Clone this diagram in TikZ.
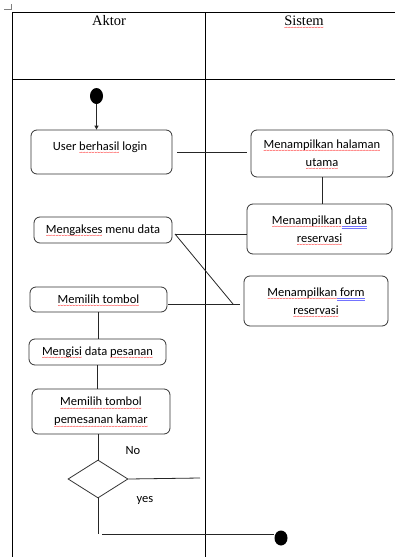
\documentclass[tikz,border=0pt]{standalone}
\usepackage{fontspec}
\usetikzlibrary{shapes.geometric,arrows.meta}
\newfontfamily\carl{Carlito}
\newfontfamily\tms{Liberation Serif}
\newcommand\rw[1]{\leavevmode\setbox0\hbox{#1}\rlap{\smash{\raisebox{-4.2pt}{\hbox to \wd0{\color{red}\xleaders\hbox{\carl\fontsize{6}{6}\selectfont\char"7E}\hfill}}}}\box0\relax}
\newcommand\bl[1]{\leavevmode\setbox0\hbox{#1}\rlap{\smash{\textcolor{blue!55}{\rule[-2.4pt]{\wd0}{0.35pt}}}}\rlap{\smash{\textcolor{blue!55}{\rule[-3.6pt]{\wd0}{0.35pt}}}}\box0\relax}
\begin{document}
\begin{tikzpicture}[x=1pt,y=-1pt,
 frame/.style={line width=0.8pt, black},
 box/.style={draw=black!80, line width=0.8pt, rounded corners=6pt, align=center, font=\carl\fontsize{12.5}{18}\selectfont, inner sep=0pt},
 conn/.style={line width=0.8pt, black!85},
 txt/.style={font=\carl\fontsize{12.5}{18}\selectfont, inner sep=0pt},
 head/.style={font=\tms\fontsize{14.5}{17}\selectfont, inner sep=0pt, anchor=base},
 blob/.style={ellipse, fill=black, inner sep=0pt}]
\useasboundingbox (0,0) rectangle (395,557);
\draw[gray, line width=0.6pt] (4,9) -- (11,9) -- (11,4);
\draw[frame] (12,557) -- (12,12) -- (395,12);
\draw[frame] (205,12) -- (205,557);
\draw[frame] (12,79) -- (395,79);
\node[head] (hA) at (109,25) {Aktor};
\node[head] (hS) at (304,25) {\rw{Sistem}};
\node[blob, minimum width=13pt, minimum height=16pt] (s) at (96.5,96) {};
\node[box, minimum width=141pt, minimum height=44pt] (b1) at (101.5,152) {};
\node[txt] (t1) at (100,147) {User \rw{berhasil} login};
\node[box, minimum width=142pt, minimum height=47pt] (b2) at (322,153.5) {\rw{Menampilkan halaman}\\\rw{utama}};
\node[box, minimum width=145pt, minimum height=50pt] (b3) at (319.5,229) {\rw{Menampilkan}\bl{ data}\\\rw{reservasi}};
\node[box, minimum width=138pt, minimum height=26pt] (b4) at (103,230) {\rw{Mengakses} menu data};
\node[box, minimum width=144pt, minimum height=50pt] (b5) at (316,301) {\rw{Menampilkan}\bl{ form}\\\rw{reservasi}};
\node[box, minimum width=137pt, minimum height=25pt] (b6) at (98.5,299.5) {\rw{Memilih tombol}};
\node[box, minimum width=137pt, minimum height=26pt] (b7) at (97.5,352) {\rw{Mengisi} data \rw{pesanan}};
\node[box, minimum width=138pt, minimum height=45pt] (b8) at (101,411.5) {\rw{Memilih tombol}\\\rw{pemesanan kamar}};
\node[diamond, draw=black!80, line width=0.8pt, minimum width=60pt, minimum height=38pt, inner sep=0pt] (d) at (98,479) {};
\node[txt] (no) at (133,451) {No};
\node[txt] (yes) at (145,500) {yes};
\node[blob, minimum width=13pt, minimum height=15pt] (f) at (281,538) {};
\draw[conn, -{Triangle[length=4pt,width=4pt]}] (s) -- (b1.north -| s);
\draw[conn, shorten <=5pt, shorten >=4pt] (b1.east) -- (b1.east -| b2.west);
\draw[conn] (b2.south) -- (b2.south |- b3.north);
\coordinate (j4) at (175,234);
\draw[conn] (j4) -- (j4 -| b3.west);
\coordinate (k5) at (233,304);
\draw[conn] (j4) -- (k5);
\draw[conn, shorten <=1pt, shorten >=4pt] (b6.east |- k5) -- (k5 -| b5.west);
\draw[conn] (b6.south) -- (b6.south |- b7.north);
\draw[conn] (b7.south) -- (b7.south |- b8.north);
\draw[conn] (b8.south -| d.north) -- (d.north);
\coordinate (n) at (200,478);
\draw[conn] (d.east) -- (n);
\coordinate (e1) at (98,534);
\draw[conn] (d.south) -- (e1);
\coordinate (e2) at (102,534);
\draw[conn] (e2) -- (e2 -| f.west);
\end{tikzpicture}
\end{document}
